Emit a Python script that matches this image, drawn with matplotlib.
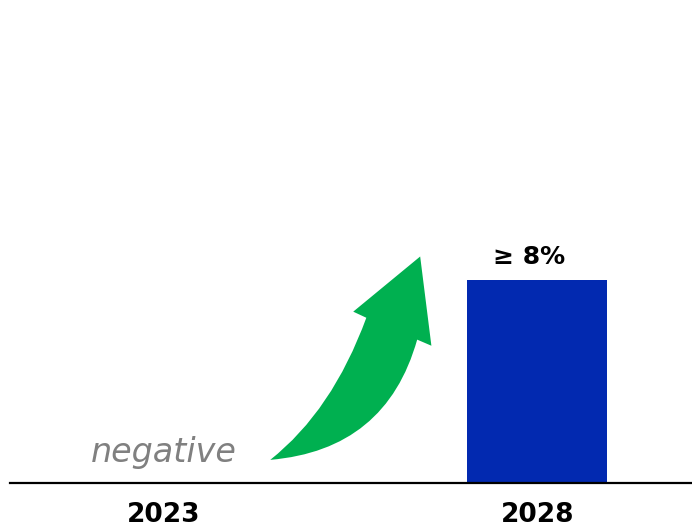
import matplotlib.pyplot as plt
from matplotlib.path import Path
import matplotlib.patches as patches

plt.rcParams['font.family'] = ['DejaVu Sans']

# data
years = ['2023', '2028']
values = [0, 8]
labels = ['negative', '≥ 8%']

blue = '#0229B0'
green = '#00B050'

fig = plt.figure(figsize=(6.92, 5.30), dpi=100)
ax = fig.add_axes([10 / 692, 47 / 530, 682 / 692, 483 / 530])

x = list(range(len(years)))
ax.bar(x, values, width=0.374, color=blue)

ax.set_xlim(-0.41, 1.414)
ax.set_ylim(0, 19.0)

# labels above bars
ax.text(x[0], values[0] + 0.83, labels[0], ha='center', va='baseline',
        fontsize=24, style='italic', color='#808080')
ax.annotate(labels[1], (x[1], values[1]), xytext=(-6, 8), textcoords='offset points',
            ha='center', va='bottom', fontsize=18, fontweight='bold', color='black')

# curved green arrow (decoration)
verts = [
    (0.286, 0.91),
    (0.452, 2.84), (0.543, 6.50),
    (0.508, 6.74),
    (0.687, 8.91),
    (0.717, 5.40),
    (0.679, 5.64),
    (0.596, 1.30), (0.286, 0.91),
    (0.286, 0.91),
]
codes = [Path.MOVETO,
         Path.CURVE3, Path.CURVE3,
         Path.LINETO,
         Path.LINETO,
         Path.LINETO,
         Path.LINETO,
         Path.CURVE3, Path.CURVE3,
         Path.CLOSEPOLY]
ax.add_patch(patches.PathPatch(Path(verts, codes), facecolor=green, edgecolor='none'))

for s in ['top', 'right', 'left']:
    ax.spines[s].set_visible(False)
ax.spines['bottom'].set_linewidth(1.6)
ax.spines['bottom'].set_color('black')
ax.set_yticks([])
ax.set_xticks(x)
ax.set_xticklabels(years, fontsize=19, fontweight='bold')
ax.tick_params(axis='x', length=0, pad=14)

plt.savefig('out.png', dpi=100)
plt.close(fig)
